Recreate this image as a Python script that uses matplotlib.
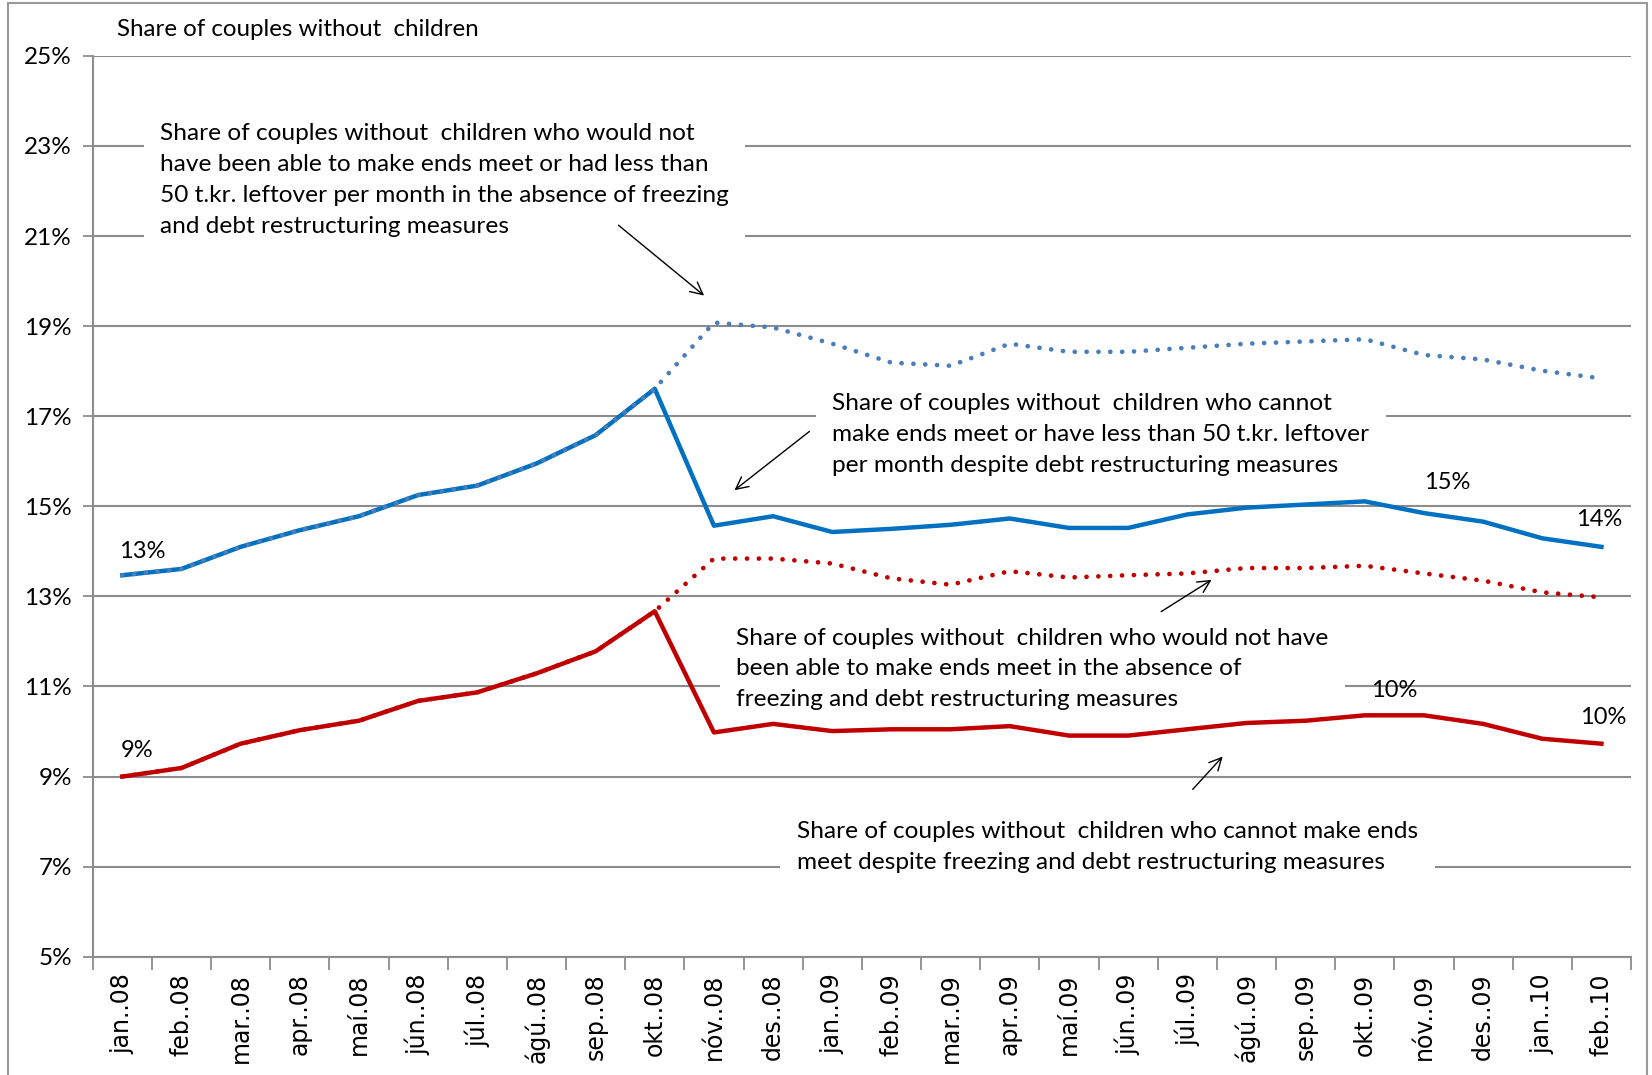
import numpy as np
import matplotlib
matplotlib.use('Agg')
import matplotlib.pyplot as plt
import matplotlib.patches as mpatches
from matplotlib import font_manager as fm

# Data
months = ['jan..08', 'feb..08', 'mar..08', 'apr..08', 'maí.08', 'jún..08', 'júl..08', 'ágú..08',
          'sep..08', 'okt..08', 'nóv..08', 'des..08', 'jan..09', 'feb..09', 'mar..09', 'apr..09',
          'maí.09', 'jún..09', 'júl..09', 'ágú..09', 'sep..09', 'okt..09', 'nóv..09', 'des..09',
          'jan..10', 'feb..10']

blue_actual = [13.47, 13.61, 14.10, 14.47, 14.78, 15.25, 15.46, 15.95, 16.58, 17.61,
               14.57, 14.78, 14.43, 14.50, 14.59, 14.73, 14.52, 14.52, 14.82, 14.97,
               15.04, 15.11, 14.85, 14.66, 14.29, 14.10]
blue_without = [13.47, 13.61, 14.10, 14.47, 14.78, 15.25, 15.46, 15.95, 16.58, 17.61,
                19.08, 18.97, 18.61, 18.19, 18.12, 18.61, 18.43, 18.43, 18.52, 18.61,
                18.66, 18.71, 18.36, 18.26, 18.01, 17.84]
red_actual = [9.00, 9.19, 9.73, 10.03, 10.24, 10.68, 10.87, 11.29, 11.78, 12.67,
              9.98, 10.17, 10.01, 10.05, 10.05, 10.12, 9.91, 9.91, 10.05, 10.19,
              10.24, 10.36, 10.36, 10.17, 9.84, 9.73]
red_without = [9.00, 9.19, 9.73, 10.03, 10.24, 10.68, 10.87, 11.29, 11.78, 12.67,
               13.84, 13.84, 13.73, 13.40, 13.26, 13.56, 13.42, 13.47, 13.51, 13.63,
               13.63, 13.68, 13.51, 13.35, 13.09, 12.98]

yticks = [5, 7, 9, 11, 13, 15, 17, 19, 21, 23, 25]

# point labels: (series, index, text, offset in pixels)
point_labels = [('blue', 0, '13%', (20, 24)), ('blue', 22, '15%', (23, 31)),
                ('blue', 25, '14%', (-2, 27)), ('red', 0, '9%', (15, 26)),
                ('red', 21, '10%', (29, 25)), ('red', 25, '10%', (2, 26))]

names = {f.name for f in fm.fontManager.ttflist}
txt_font = 'Liberation Sans Narrow' if 'Liberation Sans Narrow' in names else 'Lato'
plt.rcParams['font.family'] = [txt_font, 'DejaVu Sans']

grid_c = '#8c8c8c'
blue = '#0070C0'
blue_dot = '#4a7ebb'
red = '#C00000'
dots = (0, (0.01, 2.5))

fig = plt.figure(figsize=(16.52, 10.75), dpi=100)
ax = fig.add_axes([0.0561, 0.110, 0.9312, 0.838])

x = np.arange(len(months))
ax.plot(x, blue_actual, color=blue, lw=3.2, zorder=3)
ax.plot(x, blue_without, color=blue_dot, lw=3.4, ls=dots,
        dash_capstyle='round', zorder=4)
ax.plot(x, red_actual, color=red, lw=3.2, zorder=3)
ax.plot(x, red_without, color=red, lw=3.4, ls=dots,
        dash_capstyle='round', zorder=4)

ax.set_xlim(-0.5, len(months) - 0.5)
ax.set_ylim(5, 25)
ax.set_yticks(yticks)
ax.set_yticklabels([f'{v}%' for v in yticks], fontsize=17.5)
ax.yaxis.grid(True, color=grid_c, lw=1.5, zorder=0)
ax.set_axisbelow(True)

ax.set_xticks(x)
ax.set_xticklabels(months, rotation=90, fontsize=17, family='DejaVu Sans')
ax.set_xticks(np.arange(-0.5, len(months)), minor=True)
ax.tick_params(axis='x', which='major', length=0, pad=12)
ax.tick_params(axis='x', which='minor', length=9, color=grid_c, width=1.3)
ax.tick_params(axis='y', length=7, color=grid_c, width=1.3, pad=8)

for s in ['top', 'right']:
    ax.spines[s].set_visible(False)
for s in ['left', 'bottom']:
    ax.spines[s].set_color(grid_c)
    ax.spines[s].set_linewidth(1.5)

series = {'blue': blue_actual, 'red': red_actual}
for name, i, label, off in point_labels:
    ax.annotate(label, xy=(i, series[name][i]), xytext=off, textcoords='offset pixels',
                ha='center', va='center', fontsize=17, zorder=6)

box = dict(facecolor='white', edgecolor='none', pad=12)
notes = [
    ('Share of couples without  children who would not\n'
     'have been able to make ends meet or had less than\n'
     '50 t.kr. leftover per month in the absence of freezing\n'
     'and debt restructuring measures', (0.64, 22.25), (8.35, 21.28), (9.87, 19.64)),
    ('Share of couples without  children who cannot\n'
     'make ends meet or have less than 50 t.kr. leftover\n'
     'per month despite debt restructuring measures', (12.0, 16.6), (11.65, 16.70), (10.31, 15.32)),
    ('Share of couples without  children who would not have\n'
     'been able to make ends meet in the absence of\n'
     'freezing and debt restructuring measures', (10.38, 11.39), (17.52, 12.63), (18.45, 13.40)),
    ('Share of couples without  children who cannot make ends\n'
     'meet despite freezing and debt restructuring measures', (11.40, 7.43), (18.06, 8.67), (18.63, 9.49)),
]
for text, pos, a0, a1 in notes:
    ax.text(pos[0], pos[1], text, ha='left', va='center', fontsize=17.6,
            linespacing=1.58, bbox=box, zorder=2)
    ax.annotate('', xy=a1, xytext=a0,
                arrowprops=dict(arrowstyle='->', color='black', lw=1.0,
                                mutation_scale=22), zorder=5)

fig.text(117 / 1652, 1 - 30 / 1075, 'Share of couples without  children', fontsize=17.4,
         ha='left', va='center')

fig.patches.append(mpatches.Rectangle((0.005, -0.01), 0.992, 1.007, transform=fig.transFigure,
                                      fill=False, edgecolor='#999999', lw=1.5))

fig.savefig('out.png', dpi=100)
